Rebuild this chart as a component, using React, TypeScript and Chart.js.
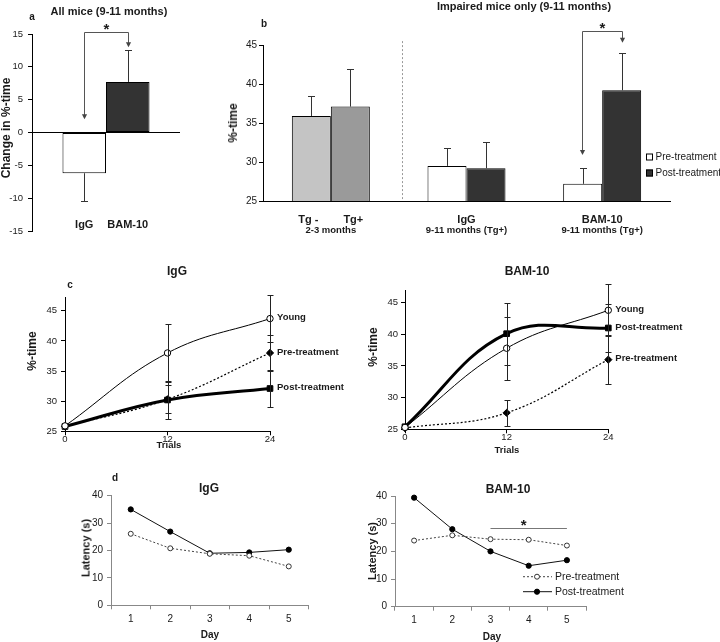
import React, { useEffect, useRef } from 'react';
import { Chart, registerables } from 'chart.js';
Chart.register(...registerables);

const FONT = "'Liberation Sans', Arial, Helvetica, sans-serif";
const INK = '#1a1a1a';

// ---------- Panel a ----------
const aGroups = ['IgG', 'BAM-10'];
const aChange = [-6.2, 7.7];
const aError = [4.3, 4.9];
const aSigTop = 15.3;
const aSigTips = [2.0, 13.0];

// ---------- Panel b ----------
const bGroupMain: (string | string[])[] = [['Tg -', 'Tg+'], 'IgG', 'BAM-10'];
const bGroupSub = ['2-3 months', '9-11 months (Tg+)', '9-11 months (Tg+)'];
const bSeries = ['Pre-treatment', 'Post-treatment'];
const bPre = [35.9, 29.5, 27.2];
const bPreErr = [2.6, 2.3, 2.0];
const bPost = [37.1, 29.2, 39.2];
const bPostErr = [4.8, 3.4, 4.8];
const bSigTop = 46.8;
const bSigTips = [30.9, 45.3];
const bSeparatorAt = 0.525;

// ---------- Panel c ----------
const cTrials = [0, 12, 24];
const cIgGYoung = [25.9, 38.0, 43.7];
const cIgGYoungErr = [0, 4.8, 3.9];
const cIgGPre = [25.8, 30.3, 38.0];
const cIgGPreErr = [0, 2.3, 3.0];
const cIgGPost = [25.8, 30.2, 32.1];
const cIgGPostErr = [0, 3.1, 3.0];
const cBamYoung = [25.3, 37.8, 43.8];
const cBamYoungErr = [0, 5.0, 4.1];
const cBamPost = [25.4, 40.1, 41.0];
const cBamPostErr = [0, 4.9, 3.8];
const cBamPre = [25.2, 27.6, 36.0];
const cBamPreErr = [0, 2.1, 3.9];

// ---------- Panel d ----------
const dDays = ['1', '2', '3', '4', '5'];
const dIgGPre = [26.1, 20.8, 18.8, 18.1, 14.2];
const dIgGPost = [35.0, 26.9, 19.0, 19.3, 20.3];
const dBamPre = [23.9, 25.8, 24.4, 24.2, 22.1];
const dBamPost = [39.4, 28.0, 20.0, 14.8, 16.8];
const dBamSig = { from: 2, to: 4, at: 28.6 };

// ---------- helpers ----------
const font = (size: number, bold = false) => ({ family: FONT, size, weight: bold ? 'bold' : 'normal' });

function text(ctx: CanvasRenderingContext2D, str: string, x: number, y: number, size: number, bold: boolean, align: CanvasTextAlign = 'center') {
  ctx.save();
  ctx.font = `${bold ? 'bold ' : ''}${size}px ${FONT}`;
  ctx.fillStyle = INK;
  ctx.textAlign = align;
  ctx.textBaseline = 'middle';
  ctx.fillText(str, x, y);
  ctx.restore();
}

function star(ctx: CanvasRenderingContext2D, x: number, yLine: number) {
  ctx.save();
  ctx.font = `bold 15px ${FONT}`;
  ctx.fillStyle = INK;
  ctx.textAlign = 'center';
  ctx.textBaseline = 'alphabetic';
  ctx.fillText('*', x, yLine + 1.5);
  ctx.restore();
}

function bracket(ctx: CanvasRenderingContext2D, x1: number, x2: number, yTop: number, t1: number, t2: number) {
  ctx.save();
  ctx.strokeStyle = '#555';
  ctx.fillStyle = '#444';
  ctx.lineWidth = 1;
  x1 = Math.round(x1) + 0.5;
  x2 = Math.round(x2) + 0.5;
  yTop = Math.round(yTop) + 0.5;
  ctx.beginPath();
  ctx.moveTo(x1, t1 - 4);
  ctx.lineTo(x1, yTop);
  ctx.lineTo(x2, yTop);
  ctx.lineTo(x2, t2 - 4);
  ctx.stroke();
  [[x1, t1], [x2, t2]].forEach(([x, y]) => {
    ctx.beginPath();
    ctx.moveTo(x - 2.6, y - 5);
    ctx.lineTo(x + 2.6, y - 5);
    ctx.lineTo(x, y);
    ctx.closePath();
    ctx.fill();
  });
  ctx.restore();
  star(ctx, (x1 + x2) / 2, yTop);
}

const barErr = {
  id: 'barErr',
  afterDatasetsDraw(chart: any) {
    const ctx = chart.ctx;
    const ys = chart.scales.y;
    chart.data.datasets.forEach((ds: any, i: number) => {
      chart.getDatasetMeta(i).data.forEach((el: any, j: number) => {
        const v = ds.data[j];
        const e = ds.errors[j];
        const end = v + (v < 0 ? -e : e);
        const x = Math.round(el.x) + 0.5;
        const y0 = ys.getPixelForValue(v);
        const y1 = Math.round(ys.getPixelForValue(end)) + 0.5;
        ctx.save();
        ctx.strokeStyle = '#333';
        ctx.lineWidth = 1;
        ctx.beginPath();
        ctx.moveTo(x, y0);
        ctx.lineTo(x, y1);
        ctx.moveTo(x - 3.5, y1);
        ctx.lineTo(x + 3.5, y1);
        ctx.stroke();
        ctx.restore();
      });
    });
  },
};

const lineErr = {
  id: 'lineErr',
  afterDatasetsDraw(chart: any) {
    const ctx = chart.ctx;
    const ys = chart.scales.y;
    chart.data.datasets.forEach((ds: any, i: number) => {
      chart.getDatasetMeta(i).data.forEach((pt: any, j: number) => {
        const e = ds.errors ? ds.errors[j] : 0;
        if (!e) return;
        const v = ds.data[j].y;
        const x = Math.round(pt.x) + 0.5;
        const yt = Math.round(ys.getPixelForValue(v + e)) + 0.5;
        const yb = Math.round(ys.getPixelForValue(v - e)) + 0.5;
        ctx.save();
        ctx.strokeStyle = '#222';
        ctx.lineWidth = 1;
        ctx.beginPath();
        ctx.moveTo(x, yt);
        ctx.lineTo(x, yb);
        ctx.moveTo(x - 3, yt);
        ctx.lineTo(x + 3, yt);
        ctx.moveTo(x - 3, yb);
        ctx.lineTo(x + 3, yb);
        ctx.stroke();
        ctx.restore();
      });
    });
  },
};

const endLabels = {
  id: 'endLabels',
  afterDatasetsDraw(chart: any) {
    chart.data.datasets.forEach((ds: any, i: number) => {
      const pts = chart.getDatasetMeta(i).data;
      const p = pts[pts.length - 1];
      text(chart.ctx, ds.label, p.x + 7, p.y - 1, 9.5, true, 'left');
    });
  },
};

const yTicks5 = (s: any) => {
  s.ticks = s.ticks.filter((t: any) => Math.abs(t.value % 5) < 1e-9);
};

// ---------- chart configs ----------
function makeA(): any {
  return {
    type: 'bar',
    data: {
      labels: [''],
      datasets: aGroups.map((g, i) => ({
        label: g,
        data: [aChange[i]],
        errors: [aError[i]],
        backgroundColor: i === 0 ? '#ffffff' : '#333333',
        borderColor: '#000',
        borderWidth: 1,
        borderSkipped: false,
        barPercentage: 1,
        categoryPercentage: 0.588,
      })),
    },
    options: {
      animation: false,
      responsive: false,
      events: [],
      layout: { padding: { top: 34, right: 20, bottom: 19, left: 0 } },
      plugins: { legend: { display: false }, tooltip: { enabled: false } },
      scales: {
        x: { display: false },
        y: {
          min: -15,
          max: 15,
          ticks: { stepSize: 5, font: font(9.5), color: INK, padding: 5 },
          grid: {
            color: (c: any) => (c.tick && c.tick.value === 0 ? '#000' : 'rgba(0,0,0,0)'),
            tickColor: '#000',
            tickLength: 4,
          },
          border: { color: '#000' },
          afterFit: (s: any) => { s.width = 32; },
        },
      },
    },
    plugins: [
      barErr,
      {
        id: 'aExtras',
        afterDraw(chart: any) {
          const ys = chart.scales.y;
          const m0 = chart.getDatasetMeta(0).data[0];
          const m1 = chart.getDatasetMeta(1).data[0];
          bracket(chart.ctx, m0.x, m1.x, ys.getPixelForValue(aSigTop), ys.getPixelForValue(aSigTips[0]), ys.getPixelForValue(aSigTips[1]));
          aGroups.forEach((g, i) => text(chart.ctx, g, chart.getDatasetMeta(i).data[0].x, chart.chartArea.bottom - 6, 11, true));
        },
      },
    ],
  };
}

function makeB(): any {
  const preColors = ['#c4c4c4', '#ffffff', '#ffffff'];
  const postColors = ['#9a9a9a', '#333333', '#333333'];
  return {
    type: 'bar',
    data: {
      labels: bGroupMain.map((m) => (Array.isArray(m) ? m.join(' / ') : m)),
      datasets: [
        { label: bSeries[0], data: bPre, errors: bPreErr, backgroundColor: preColors },
        { label: bSeries[1], data: bPost, errors: bPostErr, backgroundColor: postColors },
      ].map((d) => ({ ...d, borderColor: '#000', borderWidth: 1, borderSkipped: 'bottom', barPercentage: 1, categoryPercentage: 0.575 })),
    },
    options: {
      animation: false,
      responsive: false,
      events: [],
      layout: { padding: { top: 45, right: 50, bottom: 0, left: 0 } },
      plugins: { legend: { display: false }, tooltip: { enabled: false } },
      scales: {
        x: {
          grid: { display: false },
          ticks: { display: false },
          border: { color: '#000' },
          afterFit: (s: any) => { s.height = 49; },
        },
        y: {
          min: 25,
          max: 45,
          ticks: { stepSize: 5, font: font(10), color: INK, padding: 2 },
          grid: { drawOnChartArea: false, tickLength: 4, tickColor: '#000' },
          border: { color: '#000' },
          afterFit: (s: any) => { s.width = 63; },
        },
      },
    },
    plugins: [
      barErr,
      {
        id: 'bExtras',
        afterDraw(chart: any) {
          const ctx = chart.ctx;
          const xs = chart.scales.x;
          const ys = chart.scales.y;
          // separator
          const sx = Math.round(xs.getPixelForValue(bSeparatorAt)) + 0.5;
          ctx.save();
          ctx.strokeStyle = '#999';
          ctx.setLineDash([2, 2]);
          ctx.beginPath();
          ctx.moveTo(sx, ys.getPixelForValue(45.5));
          ctx.lineTo(sx, ys.getPixelForValue(25.25));
          ctx.stroke();
          ctx.restore();
          // category labels
          bGroupMain.forEach((m, i) => {
            if (Array.isArray(m)) {
              m.forEach((t, k) => {
                const bx = chart.getDatasetMeta(k).data[i].x;
                text(ctx, t, bx + (k === 0 ? -3 : 3), 219.5, 11, true);
              });
            } else {
              text(ctx, m, xs.getPixelForValue(i), 219.5, 11, true);
            }
            text(ctx, bGroupSub[i], xs.getPixelForValue(i), 230.5, 9.5, true);
          });
          // significance
          const p = chart.getDatasetMeta(0).data[2];
          const q = chart.getDatasetMeta(1).data[2];
          bracket(ctx, p.x - 1, q.x, ys.getPixelForValue(bSigTop), ys.getPixelForValue(bSigTips[0]), ys.getPixelForValue(bSigTips[1]));
          // legend
          chart.data.datasets.forEach((ds: any, i: number) => {
            const y = 157 + i * 16;
            ctx.save();
            ctx.fillStyle = ds.backgroundColor[2];
            ctx.strokeStyle = '#000';
            ctx.lineWidth = 1;
            ctx.fillRect(446, y - 3.5, 7, 7);
            ctx.strokeRect(446.5, y - 3, 6, 6);
            ctx.restore();
            text(ctx, ds.label, 455.5, y, 10, false, 'left');
          });
        },
      },
    ],
  };
}

function cStyle(kind: string) {
  if (kind === 'young')
    return { borderColor: '#000', borderWidth: 1, tension: 0.4, pointStyle: 'circle', pointRadius: 3.2, pointBackgroundColor: '#fff', pointBorderColor: '#000', pointBorderWidth: 1 };
  if (kind === 'pre')
    return { borderColor: '#000', borderWidth: 1.2, borderDash: [2, 2], tension: 0.4, pointStyle: 'rectRot', pointRadius: 3.6, pointBackgroundColor: '#000', pointBorderColor: '#000', pointBorderWidth: 1 };
  return { borderColor: '#000', borderWidth: 3, tension: 0.4, pointStyle: 'rect', pointRadius: 4, pointBackgroundColor: '#000', pointBorderColor: '#000', pointBorderWidth: 1 };
}

function makeC(series: { label: string; kind: string; values: number[]; errors: number[] }[], d: any): any {
  return {
    type: 'line',
    data: {
      datasets: series.map((s) => ({
        label: s.label,
        data: cTrials.map((t, i) => ({ x: t, y: s.values[i] })),
        errors: s.errors,
        clip: false,
        ...cStyle(s.kind),
      })),
    },
    options: {
      animation: false,
      responsive: false,
      events: [],
      layout: { padding: { top: d.top, right: d.right, bottom: 0, left: 0 } },
      plugins: { legend: { display: false }, tooltip: { enabled: false } },
      scales: {
        x: {
          type: 'linear',
          min: 0,
          max: 24,
          ticks: { stepSize: 12, font: font(9.5), color: INK, padding: d.xPad, maxRotation: 0 },
          grid: { drawOnChartArea: false, tickLength: 4, tickColor: '#000' },
          border: { color: '#000' },
          afterFit: (s: any) => { s.height = d.xh; },
        },
        y: {
          min: 25,
          max: d.yMax,
          afterBuildTicks: yTicks5,
          ticks: { stepSize: 5, font: font(9.5), color: INK, padding: d.yPad },
          grid: { drawOnChartArea: false, tickLength: 4, tickColor: '#000' },
          border: { color: '#000' },
          afterFit: (s: any) => { s.width = d.yw; },
        },
      },
    },
    plugins: [lineErr, endLabels],
  };
}

const makeCIgG = () =>
  makeC(
    [
      { label: 'Young', kind: 'young', values: cIgGYoung, errors: cIgGYoungErr },
      { label: 'Pre-treatment', kind: 'pre', values: cIgGPre, errors: cIgGPreErr },
      { label: 'Post-treatment', kind: 'post', values: cIgGPost, errors: cIgGPostErr },
    ],
    { top: 37.5, right: 90, xh: 28.7, yw: 65, yMax: 47.2, xPad: -1.7, yPad: 4 }
  );

const makeCBam = () =>
  makeC(
    [
      { label: 'Young', kind: 'young', values: cBamYoung, errors: cBamYoungErr },
      { label: 'Post-treatment', kind: 'post', values: cBamPost, errors: cBamPostErr },
      { label: 'Pre-treatment', kind: 'pre', values: cBamPre, errors: cBamPreErr },
    ],
    { top: 30, right: 111.7, xh: 30.7, yw: 45, yMax: 47, xPad: -2, yPad: 3 }
  );

function makeD(pre: number[], post: number[], d: any, extras: boolean): any {
  const plugins: any[] = [];
  if (extras) {
    plugins.push({
      id: 'dExtras',
      afterDraw(chart: any) {
        const ctx = chart.ctx;
        const xs = chart.scales.x;
        const ys = chart.scales.y;
        // significance line
        const yl = Math.round(ys.getPixelForValue(dBamSig.at)) + 0.5;
        const x1 = xs.getPixelForValue(dBamSig.from);
        const x2 = xs.getPixelForValue(dBamSig.to);
        ctx.save();
        ctx.strokeStyle = '#777';
        ctx.lineWidth = 1.2;
        ctx.beginPath();
        ctx.moveTo(x1, yl);
        ctx.lineTo(x2, yl);
        ctx.stroke();
        ctx.restore();
        star(ctx, (x1 + x2) / 2 - 5, yl);
        // legend
        chart.data.datasets.forEach((ds: any, i: number) => {
          const y = 106.7 + i * 15;
          ctx.save();
          ctx.strokeStyle = ds.borderColor;
          ctx.lineWidth = ds.borderWidth;
          ctx.setLineDash(ds.borderDash || []);
          ctx.beginPath();
          ctx.moveTo(183, y);
          ctx.lineTo(212, y);
          ctx.stroke();
          ctx.setLineDash([]);
          ctx.beginPath();
          ctx.arc(197, y, ds.pointRadius, 0, Math.PI * 2);
          ctx.fillStyle = ds.pointBackgroundColor;
          ctx.fill();
          ctx.lineWidth = 1;
          ctx.strokeStyle = ds.pointBorderColor;
          ctx.stroke();
          ctx.restore();
          text(ctx, ds.label, 215, y, 10.5, false, 'left');
        });
      },
    });
  }
  return {
    type: 'line',
    data: {
      labels: dDays,
      datasets: [
        { label: 'Pre-treatment', data: pre, borderColor: '#444', borderWidth: 1, borderDash: [2, 2], pointRadius: 2.5, pointBackgroundColor: '#fff', pointBorderColor: '#333', pointBorderWidth: 1 },
        { label: 'Post-treatment', data: post, borderColor: '#111', borderWidth: 1, pointRadius: 2.6, pointBackgroundColor: '#000', pointBorderColor: '#000', pointBorderWidth: 1 },
      ].map((s) => ({ ...s, tension: 0, clip: false })),
    },
    options: {
      animation: false,
      responsive: false,
      events: [],
      layout: { padding: { top: d.top, right: d.right, bottom: 0, left: 0 } },
      plugins: { legend: { display: false }, tooltip: { enabled: false } },
      scales: {
        x: {
          type: 'category',
          offset: true,
          ticks: { font: font(10), color: INK, padding: d.xPad },
          grid: { offset: true, drawOnChartArea: false, tickLength: 4, tickColor: '#888' },
          border: { color: '#888' },
          afterFit: (s: any) => { s.height = d.xh; },
        },
        y: {
          min: 0,
          max: 40,
          ticks: { stepSize: 10, font: font(10), color: INK, padding: 4 },
          grid: { drawOnChartArea: false, tickLength: 4, tickColor: '#888' },
          border: { color: '#888' },
          afterFit: (s: any) => { s.width = d.yw; },
        },
      },
    },
    plugins,
  };
}

const makeDIgG = () => makeD(dIgGPre, dIgGPost, { top: 25.7, right: 31.5, xh: 36.7, yw: 71, xPad: 3.7 }, false);
const makeDBam = () => makeD(dBamPre, dBamPost, { top: 26, right: 134, xh: 35.3, yw: 55, xPad: 3.3 }, true);

// ---------- components ----------
function ChartBox({ left, top, width, height, make }: { left: number; top: number; width: number; height: number; make: () => any }) {
  const ref = useRef<HTMLCanvasElement>(null);
  useEffect(() => {
    const chart = new Chart(ref.current as HTMLCanvasElement, make());
    return () => chart.destroy();
  }, []);
  return <canvas ref={ref} width={width} height={height} style={{ position: 'absolute', left, top, width, height }} />;
}

function T({ x, y, size, bold = true, rot = false, children }: { x: number; y: number; size: number; bold?: boolean; rot?: boolean; children: React.ReactNode }) {
  return (
    <div
      style={{
        position: 'absolute',
        left: x,
        top: y,
        transform: `translate(-50%,-50%)${rot ? ' rotate(-90deg)' : ''}`,
        fontSize: size,
        fontWeight: bold ? 700 : 400,
        lineHeight: 1,
        whiteSpace: 'nowrap',
        color: INK,
        fontFamily: FONT,
      }}
    >
      {children}
    </div>
  );
}

export default function App() {
  return (
    <div style={{ position: 'absolute', left: 0, top: 0, width: 720, height: 642, background: '#fff', overflow: 'hidden', fontFamily: FONT }}>
      <ChartBox left={0} top={0} width={200} height={250} make={makeA} />
      <ChartBox left={200} top={0} width={520} height={250} make={makeB} />
      <ChartBox left={0} top={260} width={360} height={200} make={makeCIgG} />
      <ChartBox left={360} top={260} width={360} height={200} make={makeCBam} />
      <ChartBox left={40} top={470} width={300} height={172} make={makeDIgG} />
      <ChartBox left={340} top={470} width={380} height={172} make={makeDBam} />

      <T x={32} y={17} size={10}>a</T>
      <T x={109} y={11} size={11}>All mice (9-11 months)</T>
      <T x={6} y={128} size={12} rot>Change in %-time</T>

      <T x={264} y={24} size={10}>b</T>
      <T x={524} y={6} size={11}>Impaired mice only (9-11 months)</T>
      <T x={233} y={123} size={12} rot>%-time</T>

      <T x={70} y={285} size={10}>c</T>
      <T x={177} y={271} size={12}>IgG</T>
      <T x={527} y={271} size={12}>BAM-10</T>
      <T x={32} y={351} size={12} rot>%-time</T>
      <T x={373} y={347} size={12} rot>%-time</T>
      <T x={169} y={445} size={9.5}>Trials</T>
      <T x={507} y={450} size={9.5}>Trials</T>

      <T x={115} y={478} size={10}>d</T>
      <T x={209} y={488} size={12}>IgG</T>
      <T x={508} y={489} size={12}>BAM-10</T>
      <T x={86} y={548} size={11} rot>Latency (s)</T>
      <T x={372} y={551} size={11} rot>Latency (s)</T>
      <T x={210} y={635} size={10}>Day</T>
      <T x={492} y={637} size={10}>Day</T>
    </div>
  );
}
